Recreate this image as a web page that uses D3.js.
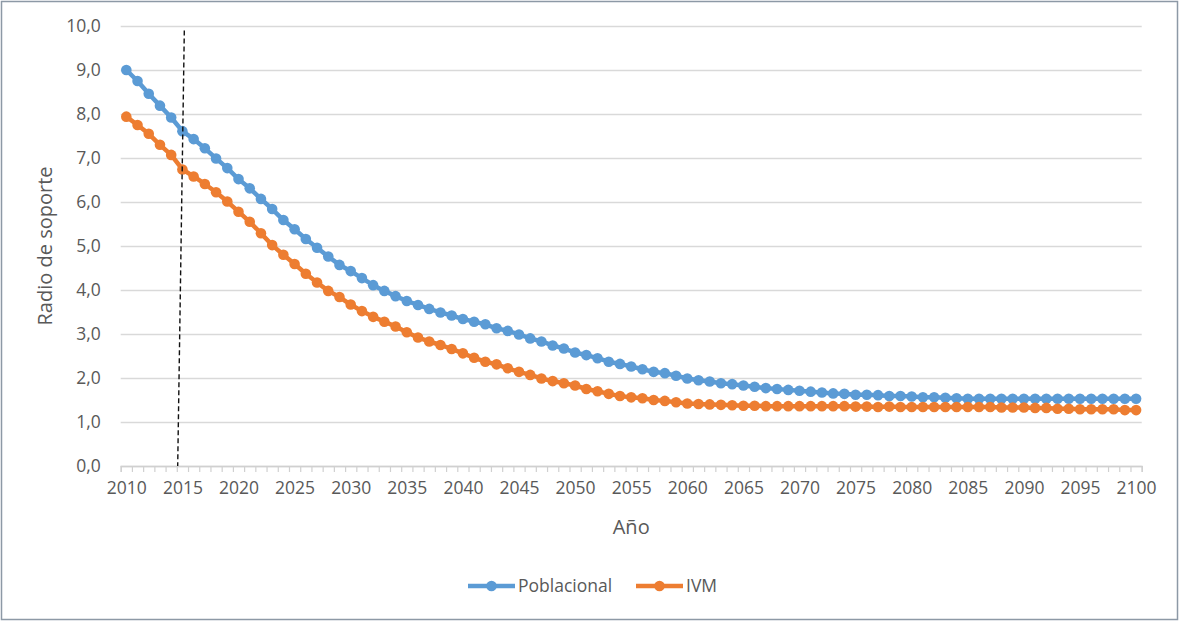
<!DOCTYPE html>
<html>
<head>
<meta charset="utf-8">
<script src="https://cdn.jsdelivr.net/npm/d3@7"></script>
<style>
  html, body { margin: 0; padding: 0; background: #fff; }
  svg { display: block; font-family: "Open Sans", "Noto Sans", sans-serif; }
</style>
</head>
<body>
<svg id="chart" width="1179" height="621"></svg>
<script>
// Support ratio projections, 2010–2100
const years = d3.range(2010, 2101);

const poblacional = [
  9.00, 8.75, 8.46, 8.19, 7.92, 7.61, 7.43, 7.22, 6.99, 6.77,
  6.52, 6.31, 6.07, 5.84, 5.59, 5.38, 5.16, 4.96, 4.76, 4.57,
  4.43, 4.27, 4.11, 3.98, 3.86, 3.75, 3.66, 3.57, 3.49, 3.42,
  3.34, 3.28, 3.22, 3.13, 3.07, 2.99, 2.90, 2.83, 2.74, 2.67,
  2.58, 2.52, 2.45, 2.37, 2.32, 2.26, 2.20, 2.14, 2.11, 2.05,
  1.99, 1.95, 1.92, 1.88, 1.86, 1.83, 1.80, 1.77, 1.75, 1.73,
  1.71, 1.69, 1.67, 1.65, 1.64, 1.62, 1.62, 1.61, 1.59, 1.59,
  1.58, 1.56, 1.56, 1.55, 1.54, 1.53, 1.53, 1.53, 1.53, 1.53,
  1.53, 1.53, 1.53, 1.53, 1.53, 1.53, 1.53, 1.53, 1.53, 1.53,
  1.53
];

const ivm = [
  7.94, 7.75, 7.55, 7.30, 7.07, 6.74, 6.58, 6.41, 6.22, 6.01,
  5.78, 5.55, 5.29, 5.02, 4.80, 4.59, 4.37, 4.17, 3.98, 3.84,
  3.67, 3.52, 3.39, 3.28, 3.17, 3.04, 2.92, 2.83, 2.75, 2.66,
  2.56, 2.46, 2.37, 2.31, 2.22, 2.14, 2.07, 1.99, 1.93, 1.88,
  1.83, 1.75, 1.70, 1.64, 1.59, 1.56, 1.54, 1.50, 1.48, 1.45,
  1.42, 1.41, 1.40, 1.39, 1.38, 1.37, 1.37, 1.36, 1.36, 1.36,
  1.36, 1.36, 1.36, 1.36, 1.36, 1.35, 1.35, 1.34, 1.35, 1.34,
  1.34, 1.34, 1.34, 1.34, 1.34, 1.34, 1.34, 1.34, 1.33, 1.33,
  1.33, 1.32, 1.32, 1.30, 1.30, 1.29, 1.29, 1.29, 1.29, 1.27,
  1.27
];

const seriesNames = ["Poblacional", "IVM"];
const seriesColors = ["#5B9BD5", "#ED7D31"];
const yTicks = d3.range(0, 10.001, 1);
const xLabelYears = d3.range(2010, 2101, 5);

// reference line marking the base year (slightly slanted, as drawn by hand)
const baseYearLine = [
  { year: 2015.17, value: 9.9 },
  { year: 2014.58, value: 0 }
];

const svg = d3.select("#chart");
const W = 1179, H = 621;
const m = { left: 120.7, right: 1141.7, top: 26, bottom: 466 };
const textColor = "#595959";

// outer chart frame
svg.append("rect")
  .attr("x", 1.5).attr("y", 1.5)
  .attr("width", W - 3).attr("height", H - 3)
  .attr("fill", "#fff").attr("stroke", "#8d99a6").attr("stroke-width", 1.5);

const x = d3.scaleLinear().domain([2009.5, 2100.5]).range([m.left, m.right]);
const y = d3.scaleLinear().domain([0, 10]).range([m.bottom, m.top]);

// horizontal gridlines and value labels
const yAxis = d3.axisLeft(y)
  .tickValues(yTicks)
  .tickSize(-(m.right - m.left))
  .tickPadding(20)
  .tickFormat(d => d3.format(".1f")(d).replace(".", ","));
const gy = svg.append("g").attr("transform", `translate(${m.left},0)`).call(yAxis);
gy.select(".domain").remove();
gy.selectAll(".tick line").attr("stroke", "#d9d9d9").attr("stroke-width", 1.3);
gy.selectAll(".tick text").attr("fill", textColor).attr("font-size", 17.5)
  .attr("font-family", "'Open Sans', sans-serif");

// category axis: tick marks between years
const boundaries = d3.range(2009.5, 2101, 1);
const xTickAxis = d3.axisBottom(x).tickValues(boundaries).tickSize(6).tickFormat("");
const gxt = svg.append("g").attr("transform", `translate(0,${m.bottom})`).call(xTickAxis);
gxt.select(".domain").attr("stroke", "#d0d0d0").attr("stroke-width", 1.3);
gxt.selectAll(".tick line").attr("stroke", "#d0d0d0").attr("stroke-width", 1.2);

// year labels centred on their category
const xLabelAxis = d3.axisBottom(x).tickValues(xLabelYears).tickSize(0).tickPadding(16)
  .tickFormat(d3.format("d"));
const gxl = svg.append("g").attr("transform", `translate(0,${m.bottom})`).call(xLabelAxis);
gxl.select(".domain").remove();
gxl.selectAll(".tick text").attr("fill", textColor).attr("font-size", 17.5)
  .attr("font-family", "'Open Sans', sans-serif");

// axis titles
svg.append("text")
  .attr("x", (m.left + m.right) / 2).attr("y", 534)
  .attr("text-anchor", "middle").attr("fill", textColor).attr("font-size", 20)
  .text("Año");
svg.append("text")
  .attr("transform", `translate(52,${(m.top + m.bottom) / 2}) rotate(-90)`)
  .attr("text-anchor", "middle").attr("fill", textColor).attr("font-size", 20)
  .text("Radio de soporte");

// series
const allSeries = [poblacional, ivm];
const line = d3.line().x((d, i) => x(years[i])).y(d => y(d));
allSeries.forEach((vals, k) => {
  const g = svg.append("g");
  g.append("path")
    .datum(vals)
    .attr("d", line)
    .attr("fill", "none")
    .attr("stroke", seriesColors[k])
    .attr("stroke-width", 4.5)
    .attr("stroke-linejoin", "round");
  g.selectAll("circle")
    .data(vals)
    .join("circle")
    .attr("cx", (d, i) => x(years[i]))
    .attr("cy", d => y(d))
    .attr("r", 5.3)
    .attr("fill", seriesColors[k]);
});

// base-year dashed reference line
svg.append("path")
  .datum(baseYearLine)
  .attr("d", d3.line().x(d => x(d.year)).y(d => y(d.value)))
  .attr("fill", "none")
  .attr("stroke", "#111")
  .attr("stroke-width", 1.4)
  .attr("stroke-dasharray", "5,3");

// legend
const legendY = 586;
const legendItems = [
  { x0: 468, name: seriesNames[0], color: seriesColors[0] },
  { x0: 636, name: seriesNames[1], color: seriesColors[1] }
];
const lg = svg.append("g");
legendItems.forEach(it => {
  lg.append("line")
    .attr("x1", it.x0).attr("x2", it.x0 + 47)
    .attr("y1", legendY).attr("y2", legendY)
    .attr("stroke", it.color).attr("stroke-width", 4.5);
  lg.append("circle")
    .attr("cx", it.x0 + 23.5).attr("cy", legendY).attr("r", 5.3).attr("fill", it.color);
  lg.append("text")
    .attr("x", it.x0 + 50).attr("y", legendY)
    .attr("dy", "0.35em")
    .attr("fill", textColor).attr("font-size", 17.5)
    .text(it.name);
});
</script>
</body>
</html>
